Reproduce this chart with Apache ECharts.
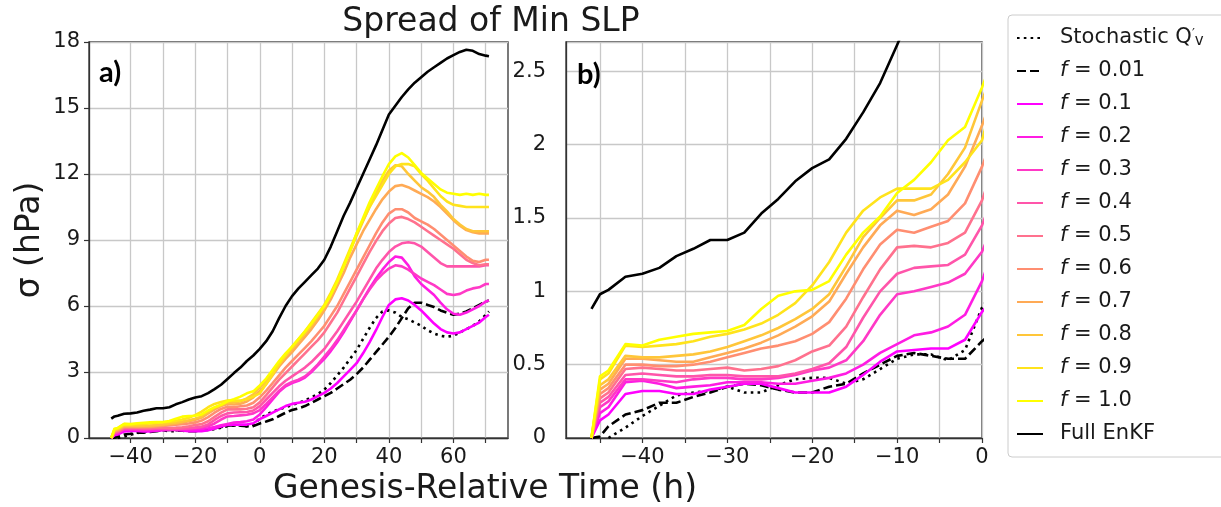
<!DOCTYPE html>
<html><head><meta charset="utf-8">
<script src="https://cdn.jsdelivr.net/npm/echarts@6/dist/echarts.min.js"></script>
<style>html,body{margin:0;padding:0;background:#fff}#c{width:1221px;height:507px}</style>
</head><body><div id="c"></div>
<script>
// Genesis-relative time (h)
const times = [-46,-45,-44,-42,-40,-38,-36,-34,-32,-30,-28,-26,-24,-22,-20,-18,-16,-14,-12,-10,-8,-6,-4,-2,0,
  2,4,6,8,10,12,14,16,18,20,22,24,26,28,30,32,34,36,38,40,42,44,46,48,50,52,54,56,58,60,62,64,66,68,70,71];

// spread of min SLP (hPa)
const stochastic = [null,null,0,.07,.15,.22,.29,.31,.32,.35,.31,.31,.36,.40,.41,.41,.37,.40,.47,.54,.57,.57,.53,.60,.89,
  1.05,1.2,1.3,1.4,1.5,1.6,1.7,1.85,2.0,2.2,2.5,2.85,3.2,3.6,4.0,4.5,5.0,5.45,5.75,5.8,5.7,5.5,5.4,5.25,5.1,4.9,4.75,4.65,4.6,4.65,4.8,4.95,5.1,5.3,5.6,5.75];
const f001 = [0,.01,.08,.16,.19,.24,.24,.28,.31,.35,.37,.36,.33,.31,.31,.35,.37,.44,.50,.56,.58,.56,.54,.54,.66,
  0.75,0.85,1.0,1.15,1.27,1.35,1.45,1.6,1.75,1.9,2.05,2.25,2.45,2.65,2.9,3.2,3.55,3.9,4.25,4.6,5.0,5.45,5.9,6.15,6.15,6.05,5.95,5.8,5.7,5.6,5.65,5.75,5.9,6.05,6.2,6.25];
const f01 = [0,.12,.16,.30,.32,.32,.30,.30,.33,.35,.37,.37,.34,.31,.31,.31,.35,.43,.52,.59,.60,.61,.61,.67,.86,
  1.0,1.15,1.3,1.45,1.55,1.6,1.65,1.75,1.9,2.05,2.25,2.5,2.8,3.1,3.4,3.85,4.35,4.9,5.5,6.05,6.3,6.35,6.25,6.05,5.8,5.5,5.2,4.95,4.8,4.75,4.8,4.95,5.1,5.25,5.5,5.6];
const f02 = [0,.17,.21,.38,.39,.37,.34,.35,.36,.38,.38,.38,.37,.37,.39,.41,.44,.50,.58,.64,.70,.72,.76,.84,1.07,
  1.4,1.75,2.1,2.35,2.5,2.6,2.75,3.0,3.3,3.6,3.95,4.35,4.8,5.3,5.8,6.3,6.8,7.25,7.65,8.0,8.25,8.2,7.85,7.35,7.0,6.75,6.5,6.15,5.85,5.65,5.6,5.7,5.85,6.0,6.2,6.25];
const f03 = [0,.21,.25,.40,.40,.39,.38,.40,.41,.41,.40,.40,.41,.43,.46,.48,.53,.66,.84,.98,1.00,1.03,1.06,1.12,1.27,
  1.55,1.85,2.15,2.4,2.55,2.65,2.8,3.05,3.35,3.7,4.05,4.45,4.9,5.35,5.8,6.3,6.75,7.15,7.45,7.7,7.85,7.8,7.65,7.45,7.25,7.1,6.95,6.75,6.55,6.5,6.55,6.7,6.8,6.85,7.0,7.0];
const f04 = [0,.24,.28,.43,.44,.43,.42,.42,.43,.43,.42,.42,.42,.44,.47,.51,.62,.82,1.00,1.12,1.16,1.17,1.18,1.25,1.45,
  1.75,2.05,2.35,2.6,2.8,3.0,3.2,3.45,3.75,4.05,4.45,4.85,5.3,5.75,6.2,6.7,7.2,7.7,8.1,8.45,8.7,8.85,8.9,8.85,8.7,8.45,8.2,7.95,7.8,7.8,7.8,7.8,7.8,7.8,7.85,7.85];
const f05 = [0,.27,.31,.47,.48,.47,.46,.46,.47,.48,.46,.47,.49,.53,.59,.63,.76,.96,1.15,1.30,1.31,1.30,1.33,1.40,1.62,
  1.95,2.3,2.65,2.95,3.25,3.55,3.85,4.15,4.45,4.8,5.25,5.7,6.25,6.8,7.35,7.9,8.45,8.95,9.4,9.75,10.0,10.05,9.95,9.8,9.6,9.4,9.2,9.0,8.8,8.6,8.35,8.1,7.95,7.85,7.9,7.9];
const f06 = [0,.30,.34,.50,.50,.49,.49,.50,.52,.55,.58,.61,.63,.66,.71,.79,.95,1.15,1.32,1.42,1.40,1.44,1.48,1.60,1.85,
  2.15,2.5,2.85,3.2,3.5,3.8,4.1,4.4,4.75,5.1,5.55,6.0,6.55,7.1,7.65,8.2,8.75,9.3,9.8,10.2,10.4,10.4,10.25,10.0,9.85,9.7,9.5,9.25,9.0,8.75,8.5,8.25,8.05,8.0,8.1,8.1];
const f07 = [0,.33,.37,.54,.54,.53,.52,.52,.55,.58,.61,.65,.70,.76,.83,.93,1.12,1.30,1.45,1.55,1.52,1.56,1.66,1.85,2.13,
  2.45,2.85,3.25,3.6,3.9,4.25,4.6,4.95,5.35,5.8,6.3,6.9,7.5,8.2,8.8,9.4,9.9,10.4,10.85,11.2,11.45,11.5,11.4,11.25,11.1,10.95,10.75,10.5,10.2,9.9,9.65,9.45,9.35,9.3,9.3,9.3];
const f08 = [0,.36,.40,.56,.55,.55,.56,.57,.59,.62,.66,.70,.75,.81,.88,.98,1.17,1.37,1.50,1.62,1.62,1.66,1.80,1.98,2.30,
  2.6,3.0,3.4,3.75,4.05,4.4,4.75,5.1,5.5,5.95,6.5,7.1,7.8,8.5,9.2,9.85,10.5,11.1,11.7,12.15,12.4,12.35,12.0,11.7,11.4,11.2,10.95,10.6,10.3,9.95,9.7,9.5,9.4,9.4,9.4,9.4];
const f09 = [0,.40,.44,.63,.62,.63,.64,.66,.69,.71,.74,.78,.84,.92,1.04,1.20,1.40,1.55,1.64,1.70,1.70,1.70,1.76,1.88,2.03,
  2.45,2.9,3.35,3.75,4.15,4.5,4.85,5.25,5.65,6.05,6.6,7.2,7.9,8.6,9.3,9.9,10.5,11.0,11.5,12.0,12.35,12.45,12.45,12.35,12.0,11.7,11.35,11.0,10.75,10.6,10.55,10.5,10.5,10.5,10.5,10.5];
const f10 = [0,.42,.46,.64,.63,.67,.69,.71,.72,.73,.77,.88,.97,1.00,1.01,1.07,1.25,1.40,1.51,1.67,1.76,1.88,2.03,2.12,2.39,
  2.7,3.1,3.5,3.85,4.15,4.5,4.85,5.2,5.6,6.0,6.5,7.1,7.8,8.5,9.3,10.0,10.7,11.3,11.9,12.45,12.8,12.95,12.75,12.4,12.05,11.8,11.55,11.3,11.15,11.1,11.05,11.1,11.05,11.1,11.05,11.05];
const fullEnKF = [0.88,0.98,1.01,1.10,1.12,1.16,1.24,1.29,1.35,1.35,1.40,1.53,1.63,1.75,1.84,1.90,2.04,2.22,2.42,2.68,2.95,3.20,3.50,3.75,4.05,
  4.4,4.85,5.45,6.0,6.45,6.8,7.1,7.4,7.7,8.1,8.7,9.4,10.1,10.7,11.35,12.0,12.65,13.3,14.0,14.7,15.1,15.5,15.85,16.15,16.4,16.65,16.85,17.05,17.25,17.4,17.55,17.65,17.6,17.45,17.38,17.35];

const seriesNames = ['Stochastic', 'f = 0.01', 'f = 0.1', 'f = 0.2', 'f = 0.3', 'f = 0.4', 'f = 0.5',
  'f = 0.6', 'f = 0.7', 'f = 0.8', 'f = 0.9', 'f = 1.0', 'Full EnKF'];
const seriesValues = [stochastic, f001, f01, f02, f03, f04, f05, f06, f07, f08, f09, f10, fullEnKF];

// tick values
const aXTicks = [-40,-30,-20,-10,0,10,20,30,40,50,60,70];
const aXLabels = [-40,-20,0,20,40,60];
const aYTicks = [0,3,6,9,12,15,18];
const bXTicks = [-45,-40,-35,-30,-25,-20,-15,-10,-5,0];
const bXLabels = [-40,-30,-20,-10,0];
const bYTicks = [0,0.5,1,1.5,2,2.5];

const FONT = 'DejaVu Sans';
const colors = ['#000000','#000000','#ff00ff','#ff1ce3','#ff39c6','#ff55aa','#ff718e','#ff8e71','#ffaa55','#ffc639','#ffe31c','#ffff00','#000000'];
const dashes = [[2.6,4.2],[9,4],'solid','solid','solid','solid','solid','solid','solid','solid','solid','solid','solid'];

const chart = echarts.init(document.getElementById('c'), null, {renderer:'canvas'});
const minus = v => (v < 0 ? '\u2212' : '') + Math.abs(v);

const gridLine = {show:true, lineStyle:{color:'#c8c8c8', width:1.3}};
const tickStyle = {show:true, length:5, inside:false, lineStyle:{color:'#333', width:1.2}};
const labelStyle = {fontSize:21, fontFamily:FONT, color:'#1a1a1a'};
const axLine = {show:true, onZero:false, lineStyle:{color:'#333', width:1.3}};

const series = [];
seriesNames.forEach((name, i) => {
  const data = times.map((t, k) => [t, seriesValues[i][k]]);
  [0, 1].forEach(g => {
    series.push({
      name, type:'line', xAxisIndex:g, yAxisIndex:g, data,
      showSymbol:false, symbol:'none', clip:true, animation:false,
      lineStyle:{color:colors[i], width:2.6, type:dashes[i], cap:'butt', join:'round'},
      itemStyle:{color:colors[i]},
      emphasis:{disabled:true}, z: 2 + i
    });
  });
});

const legendLabel = name => {
  if (name === 'Stochastic') return 'Stochastic Q{pr|\u2032}{sb|v}';
  if (name.startsWith('f = ')) return '{it|f} = ' + name.slice(4);
  return name;
};

chart.setOption({
  animation:false,
  backgroundColor:'#ffffff',
  grid:[
    {left:89, top:42, width:419, height:396, show:true, borderColor:'#333', borderWidth:1.3, backgroundColor:'transparent'},
    {left:566, top:42, width:416, height:396, show:true, borderColor:'#333', borderWidth:1.3, backgroundColor:'transparent'}
  ],
  xAxis:[
    {type:'value', gridIndex:0, min:-52.9, max:76.9, minInterval:10, maxInterval:10,
     axisLine:axLine,
     axisTick:Object.assign({customValues:aXTicks}, tickStyle),
     axisLabel:Object.assign({customValues:aXLabels, margin:9, formatter:minus}, labelStyle),
     splitLine:Object.assign({customValues:aXTicks}, gridLine)},
    {type:'value', gridIndex:1, min:-49, max:0, minInterval:5, maxInterval:5,
     axisLine:axLine,
     axisTick:Object.assign({customValues:bXTicks}, tickStyle),
     axisLabel:Object.assign({customValues:bXLabels, margin:9, formatter:minus}, labelStyle),
     splitLine:Object.assign({customValues:bXTicks}, gridLine)}
  ],
  yAxis:[
    {type:'value', gridIndex:0, min:0, max:18, interval:3,
     axisLine:axLine,
     axisTick:Object.assign({customValues:aYTicks}, tickStyle),
     axisLabel:Object.assign({customValues:aYTicks, margin:9}, labelStyle),
     splitLine:gridLine},
    {type:'value', gridIndex:1, min:0, max:2.7, interval:0.5,
     axisLine:axLine,
     axisTick:{show:false},
     axisLabel:Object.assign({customValues:bYTicks, margin:20}, labelStyle),
     splitLine:gridLine}
  ],
  legend:{
    orient:'vertical', left:1008, top:15,
    itemWidth:26, itemHeight:14, itemGap:11,
    padding:[12, 40, 12, 8],
    backgroundColor:'#ffffff', borderColor:'#cccccc', borderWidth:1, borderRadius:4,
    selectedMode:false,
    data:seriesNames,
    formatter:legendLabel,
    itemStyle:{color:'rgba(0,0,0,0)', borderWidth:0, opacity:0},
    textStyle:{fontSize:21, lineHeight:22, fontFamily:FONT, color:'#1a1a1a', padding:[0,0,0,12],
      rich:{
        it:{fontSize:21, lineHeight:22, fontStyle:'italic', fontFamily:FONT, color:'#1a1a1a'},
        pr:{fontSize:13, lineHeight:12, verticalAlign:'top', fontFamily:FONT, color:'#1a1a1a'},
        sb:{fontSize:15, lineHeight:12, verticalAlign:'bottom', fontFamily:FONT, color:'#1a1a1a'}
      }}
  },
  graphic:[
    {type:'text', x:491, y:22, style:{text:'Spread of Min SLP', fontSize:33, fontFamily:FONT, fill:'#1a1a1a', align:'center', verticalAlign:'middle'}},
    {type:'text', x:485, y:489, style:{text:'Genesis-Relative Time (h)', fontSize:33, fontFamily:FONT, fill:'#1a1a1a', align:'center', verticalAlign:'middle'}},
    {type:'text', x:30, y:240, rotation:Math.PI/2, style:{text:'\u03c3 (hPa)', fontSize:33, fontFamily:FONT, fill:'#1a1a1a', align:'center', verticalAlign:'middle'}},
    {type:'text', x:99, y:73, z:100, style:{text:'a)', fontSize:29, fontWeight:'bold', fontFamily:'Lato', fill:'#000', align:'left', verticalAlign:'middle'}},
    {type:'text', x:577, y:75, z:100, style:{text:'b)', fontSize:29, fontWeight:'bold', fontFamily:'Lato', fill:'#000', align:'left', verticalAlign:'middle'}}
  ],
  series
});
</script>
</body></html>
